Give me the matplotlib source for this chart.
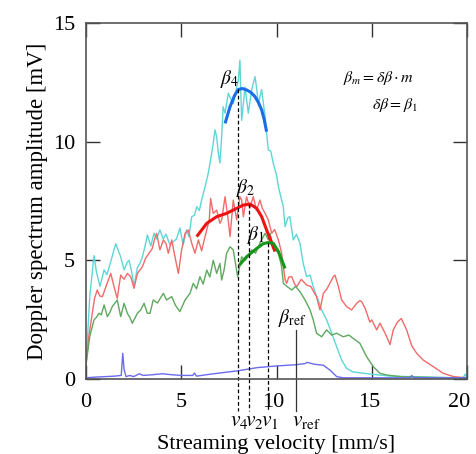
import matplotlib
matplotlib.use("Agg")
import matplotlib.pyplot as plt
from matplotlib.transforms import ScaledTranslation

plt.rcParams['font.family'] = ['Liberation Serif', 'DejaVu Serif']
plt.rcParams['mathtext.fontset'] = 'stix'

# ---- data ----
cyan_x = [0.0, 0.2, 0.42, 0.55, 0.73, 0.95, 1.1, 1.3, 1.56, 1.7, 1.82, 2.0, 2.15, 2.26, 2.4, 2.52, 2.7, 2.85,
          2.96, 3.1, 3.22, 3.4, 3.57, 3.7, 3.88, 4.05, 4.2, 4.41, 4.6, 4.75, 4.93, 5.1, 5.28, 5.4, 5.55, 5.7,
          5.81, 5.95, 6.07, 6.25, 6.4, 6.51, 6.68, 6.77, 6.86, 6.95, 7.03, 7.12, 7.2, 7.3, 7.47, 7.6, 7.73,
          7.91, 8.0, 8.08, 8.17, 8.35, 8.52, 8.7, 8.87, 8.95, 9.05, 9.22, 9.4, 9.57, 9.7, 9.83, 10.0, 10.1,
          10.27, 10.35, 10.45, 10.6, 10.7, 10.88, 11.05, 11.23, 11.4, 11.58, 11.76, 11.93, 12.05, 12.19,
          12.37, 12.5, 12.63, 12.9, 13.16, 13.42, 13.68, 14.0, 14.5, 15.0, 16.0, 17.0, 18.0, 19.0, 19.8, 19.9, 20.0]
cyan_y = [0.6, 3.5, 5.2, 4.5, 3.9, 4.6, 4.4, 4.95, 5.7, 5.4, 5.15, 4.6, 4.9, 5.0, 4.5, 3.9, 4.7, 4.9,
          5.15, 5.6, 6.07, 5.6, 6.15, 5.9, 6.28, 5.9, 6.1, 5.65, 5.8, 5.9, 6.36, 5.65, 6.28, 6.0, 6.84, 6.9,
          7.26, 7.1, 7.54, 8.1, 8.6, 9.09, 9.93, 10.5, 10.2, 9.5, 9.1, 10.2, 11.47, 11.2, 12.04, 11.8, 11.6,
          12.3, 12.6, 13.44, 10.9, 12.3, 11.2, 12.2, 12.74, 12.3, 11.6, 12.2, 11.05, 9.65, 9.6, 9.09, 8.6, 8.1,
          7.54, 7.3, 6.42, 6.8, 6.84, 5.86, 6.1, 5.72, 4.88, 4.31, 4.38, 3.89, 3.6, 3.33,
          2.91, 2.7, 2.49, 1.93, 1.36, 0.8, 0.45, 0.3, 0.25, 0.2, 0.12, 0.1, 0.08, 0.06, 0.05, 0.2, 0.05]

red_x = [0.0, 0.15, 0.33, 0.45, 0.59, 0.72, 0.86, 1.05, 1.3, 1.47, 1.64, 1.82, 2.0, 2.17, 2.35, 2.52, 2.7,
         2.96, 3.13, 3.31, 3.48, 3.6, 3.71, 3.88, 4.06, 4.2, 4.32, 4.5, 4.67, 4.85, 5.02, 5.2, 5.37, 5.55,
         5.72, 5.9, 6.07, 6.25, 6.47, 6.54, 6.68, 6.86, 7.03, 7.12, 7.3, 7.45, 7.56, 7.73, 7.91, 8.08, 8.17,
         8.26, 8.43, 8.6, 8.78, 8.95, 9.13, 9.25, 9.4, 9.57, 9.75, 9.9, 10.1, 10.27, 10.36, 10.45, 10.53,
         10.65, 10.8, 10.95, 11.06, 11.3, 11.58, 11.8, 12.1, 12.28, 12.46, 12.65, 12.8, 12.98, 13.07, 13.25,
         13.42, 13.68, 13.94, 14.21, 14.38, 14.47, 14.65, 14.9, 15.0, 15.26, 15.43, 15.7, 15.96, 16.13,
         16.35, 16.55, 16.83, 17.1, 17.36, 17.7, 18.23, 18.75, 19.3, 20.0]
red_y = [0.6, 1.8, 2.77, 3.4, 3.75, 3.5, 3.47, 3.9, 4.45, 3.89, 3.4, 4.38, 4.2, 4.45, 4.3, 3.82, 4.45,
         4.73, 5.09, 5.3, 5.5, 5.9, 6.14, 5.44, 5.86, 5.7, 5.3, 5.86, 5.15, 4.45, 5.44, 6.14, 6.28, 5.72,
         5.3, 5.86, 5.4, 6.0, 6.7, 7.61, 6.98, 7.12, 6.56, 6.7, 7.68, 6.8, 6.0, 7.54, 6.7, 7.68, 7.55,
         6.84, 7.68, 7.2, 7.68, 7.1, 7.54, 7.2, 6.98, 6.7, 6.14, 6.3, 5.86, 5.3, 4.73, 4.2, 4.03,
         4.3, 4.31, 4.0, 3.89, 4.2, 3.96, 3.9, 3.47, 2.91, 3.61, 3.8, 4.03, 4.31, 4.38, 3.89,
         3.33, 3.05, 2.91, 3.19, 3.3, 3.26, 2.98, 2.4, 2.49, 2.07, 2.35, 1.93, 1.45, 2.07,
         2.4, 2.55, 2.07, 1.4, 1.08, 0.8, 0.52, 0.24, 0.1, 0.05]

green_x = [0.0, 0.2, 0.42, 0.55, 0.68, 0.8, 0.95, 1.12, 1.25, 1.38, 1.64, 1.82, 2.0, 2.17, 2.3, 2.43, 2.7,
           2.87, 3.05, 3.22, 3.36, 3.53, 3.75, 4.06, 4.23, 4.5, 4.7, 4.93, 5.2, 5.46, 5.63, 5.8, 5.98, 6.15,
           6.34, 6.5, 6.68, 6.86, 7.03, 7.12, 7.25, 7.38, 7.56, 7.73, 7.96, 8.17, 8.35, 8.52, 8.7, 8.9, 9.13,
           9.4, 9.57, 9.66, 9.83, 10.1, 10.27, 10.36, 10.55, 10.8, 11.0, 11.23, 11.5, 11.76, 11.93, 12.1,
           12.37, 12.63, 12.9, 13.16, 13.5, 13.8, 14.03, 14.38, 14.73, 15.08, 15.43, 15.78, 16.5, 17.5,
           18.5, 20.0]
green_y = [0.6, 1.8, 2.49, 2.6, 2.77, 2.7, 3.12, 2.63, 2.8, 3.05, 3.33, 2.63, 3.19, 2.77, 2.6, 2.35, 2.77,
           2.91, 3.19, 2.77, 2.77, 3.33, 3.2, 3.61, 3.33, 3.47, 3.1, 2.84, 3.33, 3.61, 4.03, 3.8, 4.31, 4.0,
           4.59, 4.3, 5.0, 4.45, 4.87, 4.17, 4.6, 5.3, 5.57, 5.44, 4.31, 5.15, 5.0, 5.2, 5.44, 5.3, 5.72,
           6.14, 5.86, 6.14, 5.57, 5.3, 4.73, 4.03, 3.9, 3.75, 3.9, 3.68, 3.33, 2.91, 2.49, 1.93,
           1.78, 2.07, 1.85, 1.93, 1.78, 1.85, 1.71, 1.5, 0.94, 0.52, 0.24, 0.17, 0.1, 0.08,
           0.06, 0.05]

blue_x = [0.0, 0.5, 1.0, 1.5, 1.85, 1.93, 2.0, 2.1, 2.3, 2.5, 2.8, 3.0, 3.5, 4.0, 4.5, 5.0, 5.6, 5.7, 5.8,
          6.5, 7.0, 8.0, 9.0, 10.0, 11.0, 11.5, 11.6, 12.0, 12.46, 12.8, 13.16, 13.5, 14.0, 17.0, 17.1, 17.2, 20.0]
blue_y = [0.05, 0.08, 0.1, 0.12, 0.15, 1.08, 0.4, 0.1, 0.15, 0.1, 0.22, 0.15, 0.18, 0.22, 0.18, 0.15, 0.15,
          0.25, 0.12, 0.2, 0.25, 0.35, 0.48, 0.55, 0.6, 0.65, 0.7, 0.62, 0.58, 0.38, 0.1, 0.05, 0.05, 0.05,
          0.15, 0.05, 0.05]

fit4_x = [7.3, 7.56, 7.8, 8.0, 8.2, 8.43, 8.65, 8.87, 9.05, 9.22, 9.35, 9.48]
fit4_y = [10.77, 11.47, 11.95, 12.2, 12.24, 12.18, 12.08, 11.9, 11.65, 11.34, 10.95, 10.42]

fit2_x = [5.81, 6.34, 6.86, 7.38, 7.91, 8.26, 8.61, 8.96, 9.22, 9.48, 9.75, 9.92]
fit2_y = [6.0, 6.56, 6.84, 6.98, 7.19, 7.33, 7.37, 7.19, 6.84, 6.28, 5.72, 5.37]

fit1_x = [8.05, 8.43, 8.96, 9.3, 9.55, 9.83, 10.1, 10.45]
fit1_y = [4.8, 5.15, 5.5, 5.7, 5.75, 5.72, 5.37, 4.66]

v_pos = [8.0, 8.57, 9.53]
v_top = [12.2, 7.37, 5.75]
v_label_pos = [8.03, 8.83, 9.65]
v_labels = ['$v_4$', '$v_2$', '$v_1$']
vref_pos = 11.02
vref_top = 2.07

xticks = [0, 5, 10, 15, 20]
yticks = [0, 5, 10, 15]
xtick_shift_px = [0, 0, -3, -3, -8]

# ---- figure ----
fig = plt.figure(figsize=(4.76, 4.54), dpi=100)
ax = fig.add_axes([86/476, 1-379/454, (467-86)/476, (379-23)/454])

ax.plot(cyan_x, cyan_y, color='#5fd6d6', lw=1.0)
ax.plot(red_x, red_y, color='#f26a6a', lw=1.0)
ax.plot(green_x, green_y, color='#5fa85f', lw=1.0)
ax.plot(blue_x, blue_y, color='#6b6bef', lw=1.0)

ax.plot(fit4_x, fit4_y, color='#1a6de6', lw=2.2, solid_capstyle='butt')
ax.plot(fit2_x, fit2_y, color='#ee1111', lw=2.2, solid_capstyle='butt')
ax.plot(fit1_x, fit1_y, color='#16961a', lw=2.2, solid_capstyle='butt')

bottom_ext = -1.35
for xp, yt in zip(v_pos, v_top):
    ax.plot([xp, xp], [yt, bottom_ext], color='black', lw=0.9, ls=(0, (3, 2)), clip_on=False)
ax.plot([vref_pos, vref_pos], [vref_top, bottom_ext], color='#333333', lw=0.9, clip_on=False)

ax.set_xlim(0, 20)
ax.set_ylim(0, 15)
ax.set_xticks(xticks)
ax.set_yticks(yticks)
ax.tick_params(direction='in', length=10, width=1.0, top=True, right=True, labelsize=16,
               color='#333333')
ax.tick_params(axis='x', pad=10)
ax.tick_params(axis='y', pad=8)
for s in ax.spines.values():
    s.set_color('#555555')
    s.set_linewidth(1.2)

for lbl, dx in zip(ax.get_xticklabels(), xtick_shift_px):
    lbl.set_transform(lbl.get_transform() + ScaledTranslation(dx / 100, 0, fig.dpi_scale_trans))

# annotations
ax.text(7.55, 12.65, r'$\beta_4$', fontsize=14, ha='center', va='center')
ax.text(8.4, 8.05, r'$\beta_2$', fontsize=14, ha='center', va='center')
ax.text(8.9, 6.07, r'$\beta_1$', fontsize=14, ha='center', va='center')
ax.text(10.85, 2.57, r'$\beta_{\rm ref}$', fontsize=14, ha='center', va='center')
ax.text(13.5, 12.7, r'$\beta_m = \delta\beta \cdot m$', fontsize=11.5, ha='left', va='center')
ax.text(15.0, 11.55, r'$\delta\beta = \beta_1$', fontsize=11.5, ha='left', va='center')

for xp, lab in zip(v_label_pos, v_labels):
    ax.text(xp, -1.78, lab, fontsize=15.5, ha='center', va='center', clip_on=False)
ax.text(11.55, -1.78, r'$v_{\rm ref}$', fontsize=15.5, ha='center', va='center', clip_on=False)

ax.set_xlabel('Streaming velocity [mm/s]', fontsize=16, labelpad=17)
ax.set_ylabel('Doppler spectrum amplitude [mV]', fontsize=16.5, labelpad=3)

fig.savefig('out.png', dpi=100)
